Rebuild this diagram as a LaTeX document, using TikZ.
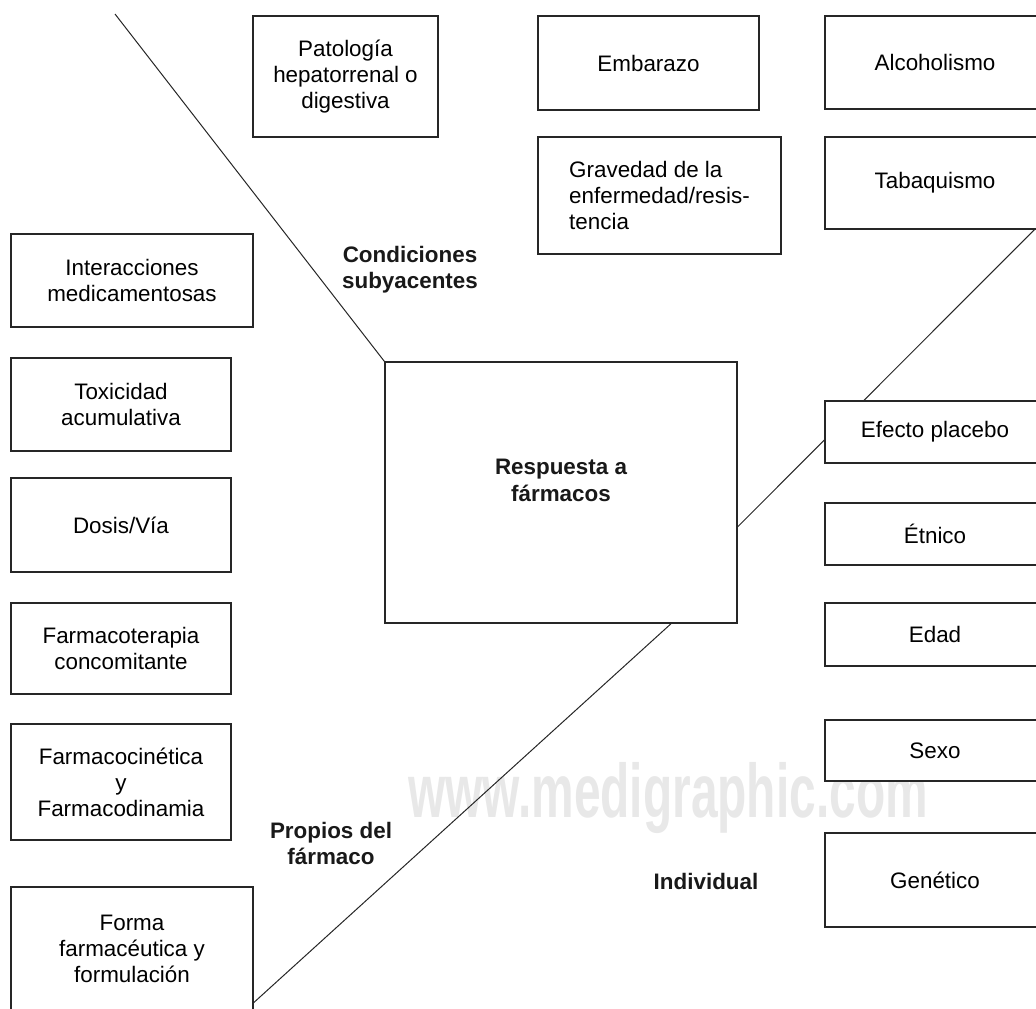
\documentclass[tikz,border=0pt]{standalone}
\usepackage{fontspec}
\setmainfont{Liberation Sans}
\usetikzlibrary{backgrounds}

\begin{document}
\begin{tikzpicture}[x=0.5pt,y=-0.5pt,
  font=\fontsize{11.2}{13}\selectfont,
  bx/.style={draw=black!85,line width=0.65pt,fill=white,align=center,inner sep=3pt},
  lbl/.style={font=\fontsize{11.2}{13}\selectfont\bfseries,align=center,text=black!90},
  ln/.style={draw=black!85,line width=0.5pt}]
  \clip (0,0) rectangle (1036,1008);
  % central effect
  \node[bx,minimum width=176pt,minimum height=130.5pt,
    label={[lbl,font=\fontsize{11.2}{13.5}\selectfont\bfseries,yshift=6pt]center:Respuesta a\\fármacos}] (resp) at (561,492.5) {};
  % top row
  \node[bx,minimum width=92.5pt,minimum height=60.5pt] (pat) at (345.5,76.5) {Patología\\hepatorrenal o\\digestiva};
  \node[bx,minimum width=110.5pt,minimum height=47pt] (emb) at (648.5,63) {Embarazo};
  \node[bx,minimum width=121.5pt,minimum height=58.5pt,align=left] (grav) at (659.5,195.5) {Gravedad de la\\enfermedad/resis-\\tencia};
  \node[bx,minimum width=110pt,minimum height=46.5pt] (alc) at (935,62.5) {Alcoholismo};
  \node[bx,minimum width=110pt,minimum height=46pt] (tab) at (935,183) {Tabaquismo};
  % left column
  \node[bx,minimum width=121pt,minimum height=46.5pt] (inter) at (132,280.5) {Interacciones\\medicamentosas};
  \node[bx,minimum width=110pt,minimum height=46.5pt] (tox) at (121,404.5) {Toxicidad\\acumulativa};
  \node[bx,minimum width=110pt,minimum height=47pt] (dosis) at (121,525) {Dosis/Vía};
  \node[bx,minimum width=110pt,minimum height=45.5pt] (fter) at (121,648.5) {Farmacoterapia\\concomitante};
  \node[bx,minimum width=110pt,minimum height=58pt] (fcin) at (121,782) {Farmacocinética\\y\\Farmacodinamia};
  \node[bx,minimum width=121pt,minimum height=61.5pt] (forma) at (132,948.5) {Forma\\farmacéutica y\\formulación};
  % right column
  \node[bx,minimum width=110pt,minimum height=31pt] (etn) at (935,534) {Étnico};
  \node[bx,minimum width=110pt,minimum height=31.5pt] (edad) at (935,634.5) {Edad};
  \node[bx,minimum width=110pt,minimum height=30.5pt] (sexo) at (935,750.5) {Sexo};
  \node[bx,minimum width=110pt,minimum height=47pt] (gen) at (935,880) {Genético};
  % group labels
  \node[lbl] (cond) at (410,270) {Condiciones\\subyacentes};
  \node[lbl] (prop) at (331,843) {Propios del\\fármaco};
  \node[lbl] (indiv) at (706,881) {Individual};
  \coordinate (c1) at (115,14);
  \coordinate (c2) at (1040,224);
  \begin{scope}[on background layer]
    \node[font=\fontsize{38}{40}\selectfont\bfseries,text=black!9,xscale=0.63,inner sep=0pt] (wm) at (668,798) {www.medigraphic.com};
    \draw[ln] (c1) -- (resp.north west);
    \draw[ln] (resp.-11.4) -- (c2);
    \draw[ln] (forma.-24.2) -- (resp.-50.6);
  \end{scope}
  \node[bx,minimum width=110pt,minimum height=31pt] (plac) at (935,432) {Efecto placebo};
\end{tikzpicture}
\end{document}
